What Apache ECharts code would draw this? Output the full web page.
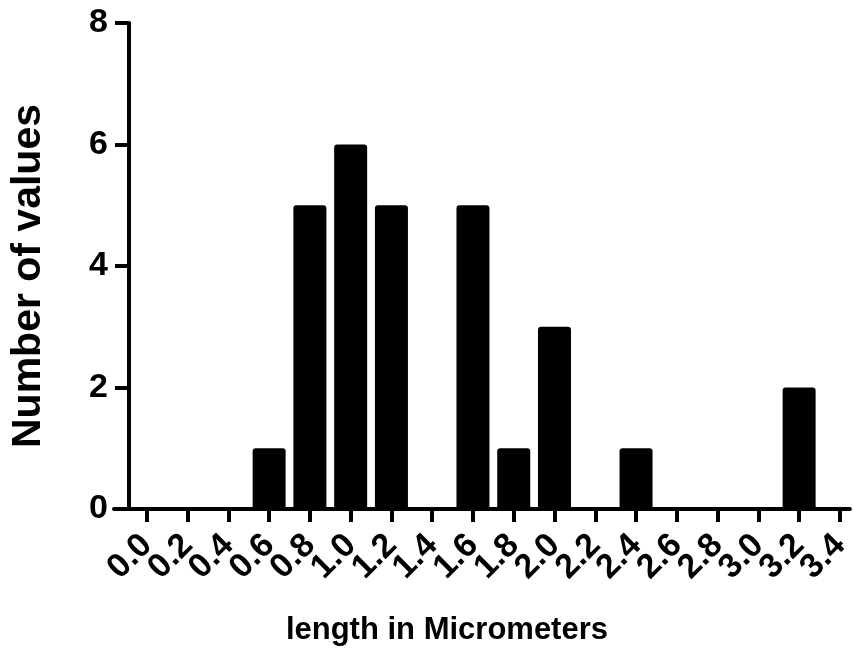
<!DOCTYPE html>
<html>
<head>
<meta charset="utf-8">
<script src="https://cdn.jsdelivr.net/npm/echarts@6/dist/echarts.min.js"></script>
<style>
  html, body { margin: 0; padding: 0; background: #fff; }
  #chart { width: 854px; height: 651px; }
</style>
</head>
<body>
<div id="chart"></div>
<script>
// bin centres (micrometers) and counts per bin
const binCenters = [0.0, 0.2, 0.4, 0.6, 0.8, 1.0, 1.2, 1.4, 1.6, 1.8, 2.0, 2.2, 2.4, 2.6, 2.8, 3.0, 3.2, 3.4]
const counts = [0, 0, 0, 1, 5, 6, 5, 0, 5, 1, 3, 0, 1, 0, 0, 0, 2, 0]
const yTicks = [0, 2, 4, 6, 8]

const font = 'Liberation Sans, Arial, sans-serif'

// the rotated labels are wider than one bin, so ECharts would drop the end ones;
// split them over two identical x axes so neighbours never sit on the same axis
const evenTicks = binCenters.filter((_, i) => i % 2 === 0)
const oddTicks = binCenters.filter((_, i) => i % 2 === 1)

const xAxisFor = (ticks, withName) => ({
  type: 'value',
  position: 'bottom',
  min: -0.161,
  max: 3.449,
  name: withName ? 'length in Micrometers' : '',
  nameLocation: 'middle',
  nameGap: 106,
  nameTextStyle: { fontFamily: font, fontWeight: 'bold', fontSize: 31, color: '#000', padding: [0, 70, 0, 0] },
  splitLine: { show: false },
  axisLine: { show: withName, onZero: false, lineStyle: { color: '#000', width: 4 } },
  axisTick: { show: true, customValues: ticks, length: 13, lineStyle: { color: '#000', width: 4 } },
  axisLabel: {
    show: true,
    customValues: ticks,
    showMinLabel: true,
    showMaxLabel: true,
    rotate: 45,
    margin: 31,
    fontFamily: font,
    fontWeight: 'bold',
    fontSize: 34,
    lineHeight: 20,
    color: '#000',
    formatter: (v) => v.toFixed(1)
  }
})

const chart = echarts.init(document.getElementById('chart'))

chart.setOption({
  animation: false,
  grid: { left: 112, right: 2, top: 23, bottom: 137 },
  xAxis: [xAxisFor(evenTicks, true), xAxisFor(oddTicks, false)],
  yAxis: {
    type: 'value',
    min: yTicks[0],
    max: yTicks[yTicks.length - 1],
    interval: 2,
    offset: -15,
    name: 'Number of values',
    nameLocation: 'middle',
    nameGap: 80,
    nameTextStyle: { fontFamily: font, fontWeight: 'bold', fontSize: 41, color: '#000', padding: [0, 20, 0, 0] },
    splitLine: { show: false },
    axisLine: { show: true, onZero: false, lineStyle: { color: '#000', width: 4 } },
    axisTick: { show: true, length: 14, lineStyle: { color: '#000', width: 4 } },
    axisLabel: { margin: 21, fontFamily: font, fontWeight: 'bold', fontSize: 34, color: '#000' }
  },
  series: [
    {
      type: 'bar',
      xAxisIndex: 0,
      data: binCenters.map((x, i) => [x, counts[i]]),
      barWidth: 33,
      itemStyle: { color: '#000', borderRadius: [3, 3, 0, 0] }
    }
  ]
})
</script>
</body>
</html>
